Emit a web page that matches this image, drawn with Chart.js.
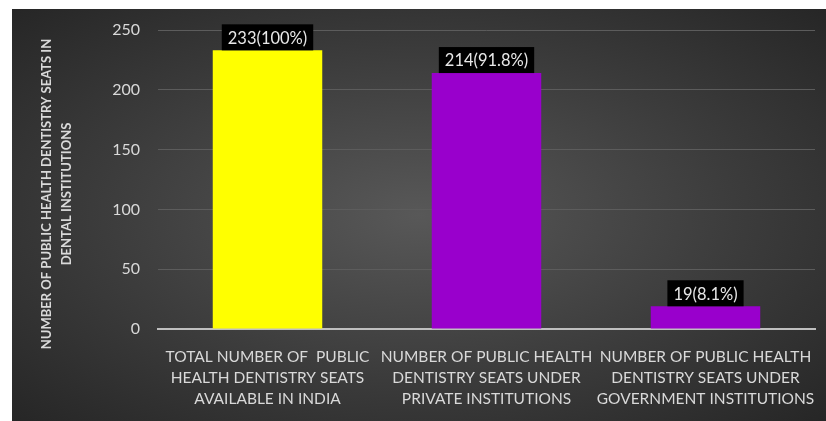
<!DOCTYPE html>
<html>
<head>
<meta charset="utf-8">
<script src="https://cdn.jsdelivr.net/npm/chart.js@4.4.1/dist/chart.umd.min.js"></script>
<style>
  html, body { margin: 0; padding: 0; background: #ffffff; }
  #wrap {
    position: absolute; left: 12px; top: 9px; width: 814px; height: 412px;
    background: radial-gradient(ellipse farthest-corner at 50% 50%, #585858 0%, #3c3c3c 55%, #262626 100%);
  }
  canvas { display: block; }
</style>
</head>
<body>
<div id="wrap"><canvas id="c" width="814" height="412"></canvas></div>
<script>
// ---- data ----
const categories = [
  ["TOTAL NUMBER OF  PUBLIC", "HEALTH DENTISTRY SEATS", "AVAILABLE IN INDIA"],
  ["NUMBER OF PUBLIC HEALTH", "DENTISTRY SEATS UNDER", "PRIVATE INSTITUTIONS"],
  ["NUMBER OF PUBLIC HEALTH", "DENTISTRY SEATS UNDER", "GOVERNMENT INSTITUTIONS"]
];
const seatValues = [233, 214, 19];
const valueLabels = ["233(100%)", "214(91.8%)", "19(8.1%)"];
const barColors = ["#ffff00", "#9900cc", "#9900cc"];
const yTitleLines = ["NUMBER OF PUBLIC HEALTH DENTISTRY SEATS IN", "DENTAL INSTITUTIONS"];
const yMin = 0, yMax = 250, yStep = 50;

const FONT = "Lato, 'Open Sans', sans-serif";
const TEXT = "#d9d9d9";

const overlay = {
  id: "overlay",
  afterDatasetsDraw(chart) {
    const ctx = chart.ctx;
    // y axis title (two rotated lines)
    ctx.save();
    ctx.fillStyle = TEXT;
    ctx.font = "bold 13px " + FONT;
    ctx.textAlign = "center";
    ctx.textBaseline = "middle";
    const cy = 185;
    yTitleLines.forEach((t, i) => {
      ctx.save();
      ctx.translate(35 + i * 20, cy);
      ctx.rotate(-Math.PI / 2);
      ctx.fillText(t, 0, 0);
      ctx.restore();
    });
    ctx.restore();
    // data labels
    const meta = chart.getDatasetMeta(0);
    ctx.save();
    ctx.font = "16.5px " + FONT;
    ctx.textAlign = "center";
    ctx.textBaseline = "middle";
    meta.data.forEach((bar, i) => {
      const txt = valueLabels[i];
      const w = ctx.measureText(txt).width + 12;
      const h = 26;
      const x = bar.x, yb = bar.y;
      ctx.fillStyle = "#000000";
      ctx.fillRect(x - w / 2, yb - h, w, h);
      ctx.fillStyle = "#e8e8e8";
      ctx.fillText(txt, x, yb - h / 2 + 1);
    });
    ctx.restore();
  }
};

new Chart(document.getElementById("c"), {
  type: "bar",
  data: {
    labels: categories,
    datasets: [{
      data: seatValues,
      backgroundColor: barColors,
      borderWidth: 0,
      barPercentage: 1,
      categoryPercentage: 0.5
    }]
  },
  options: {
    responsive: false,
    animation: false,
    events: [],
    layout: { padding: { left: 0, right: 11, top: 21, bottom: 0 } },
    plugins: { legend: { display: false }, tooltip: { enabled: false } },
    scales: {
      x: {
        afterFit(s) { s.height = 92; s.paddingLeft = 0; s.paddingRight = 0; },
        grid: { display: false, drawTicks: false },
        border: { display: true, color: "#bfbfbf", width: 2 },
        ticks: {
          color: TEXT,
          font: { family: FONT, size: 15.5, lineHeight: 1.33 },
          padding: 18,
          maxRotation: 0,
          minRotation: 0,
          autoSkip: false
        }
      },
      y: {
        min: yMin, max: yMax,
        afterFit(s) { s.width = 146; s.paddingTop = 0; s.paddingBottom = 0; },
        grid: { color: "#5c5c5c", lineWidth: 1, drawTicks: false },
        border: { display: false },
        ticks: {
          stepSize: yStep,
          color: TEXT,
          font: { family: FONT, size: 16 },
          padding: 18
        }
      }
    }
  },
  plugins: [overlay]
});
</script>
</body>
</html>
